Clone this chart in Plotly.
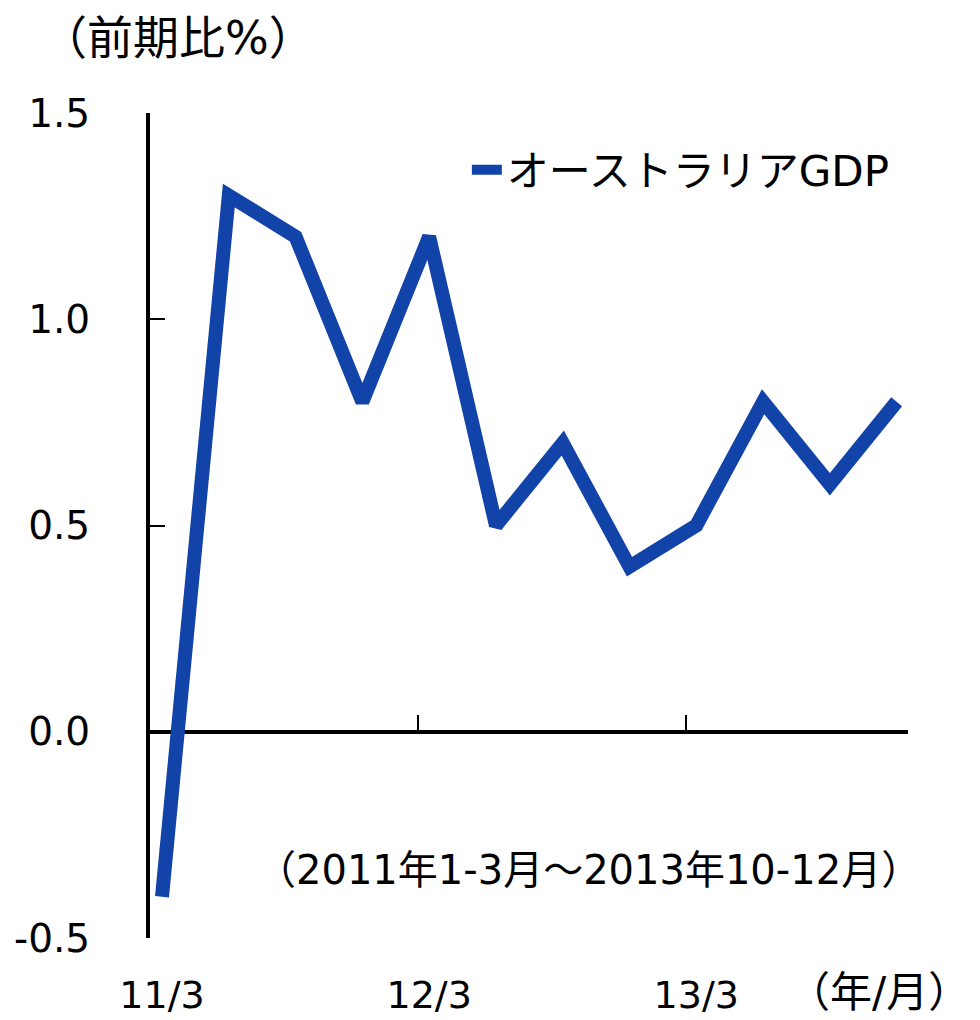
import plotly.graph_objects as go

quarters = ["2011Q1", "2011Q2", "2011Q3", "2011Q4",
            "2012Q1", "2012Q2", "2012Q3", "2012Q4",
            "2013Q1", "2013Q2", "2013Q3", "2013Q4"]
gdp_qoq = [-0.4, 1.3, 1.2, 0.8, 1.2, 0.5, 0.7, 0.4, 0.5, 0.8, 0.6, 0.8]
series_name = "オーストラリアGDP"
tick_labels = ["11/3", "12/3", "13/3"]
tick_label_idx = [0, 4, 8]
y_ticks = [-0.5, 0.0, 0.5, 1.0, 1.5]
y_tick_text = [f"{v:.1f}" for v in y_ticks]

x_idx = list(range(len(quarters)))

FONT = "DejaVu Sans, Noto Sans CJK JP, sans-serif"
FS = 39
BLUE = "#1243A9"

fig = go.Figure()
fig.add_trace(go.Scatter(
    x=x_idx, y=gdp_qoq, mode="lines", name=series_name,
    line=dict(color=BLUE, width=14), text=quarters,
    xaxis="x", yaxis="y",
))
# invisible helper so the zero-line axis renders
fig.add_trace(go.Scatter(
    x=x_idx, y=gdp_qoq, mode="lines", showlegend=False,
    line=dict(color="rgba(0,0,0,0)", width=0), hoverinfo="skip",
    xaxis="x2", yaxis="y",
))

xr = [-0.18, 11.17]
fig.update_layout(
    width=980, height=1020,
    margin=dict(l=150, r=72, t=113, b=82, autoexpand=False),
    paper_bgcolor="white", plot_bgcolor="white",
    font=dict(family=FONT, size=FS, color="black"),
    showlegend=True,
    legend=dict(x=0.418, y=0.931, xanchor="left", yanchor="middle",
                bgcolor="rgba(0,0,0,0)", font=dict(size=42),
                itemwidth=30),
    xaxis=dict(range=xr, tickmode="array", tickvals=tick_label_idx,
               ticktext=tick_labels, showline=False, ticks="",
               showgrid=False, zeroline=False, ticklabelstandoff=31,
               tickfont=dict(size=38), automargin=False),
    xaxis2=dict(range=xr, overlaying="x", anchor="free", position=0.25,
                side="bottom", showline=True, linecolor="black", linewidth=4,
                ticks="inside", ticklen=15, tickwidth=2, tickcolor="black",
                tickmode="array", tickvals=[3.84, 7.84], showticklabels=False,
                showgrid=False, zeroline=False, layer="below traces",
                automargin=False),
    yaxis=dict(range=[-0.5, 1.5], tickmode="array", tickvals=y_ticks,
               ticktext=y_tick_text, showline=True, linecolor="black",
               linewidth=4, ticks="inside", ticklen=15, tickwidth=2,
               tickcolor="black", showgrid=False, zeroline=False,
               ticklabelstandoff=48, automargin=False),
    annotations=[
        dict(text="（前期比%）", xref="paper", yref="paper", x=0.037, y=1.091,
             xanchor="center", yanchor="middle", showarrow=False,
             font=dict(size=46)),
        dict(text="（2011年1-3月～2013年10-12月）", xref="paper", yref="paper",
             x=1.02, y=0.0824, xanchor="right", yanchor="middle",
             showarrow=False, font=dict(size=40)),
        dict(text="（年/月）", xref="paper", yref="paper", x=1.085, y=-0.066,
             xanchor="right", yanchor="middle", showarrow=False,
             font=dict(size=42)),
    ],
)

fig.write_html("out.html",
               config={"displayModeBar": False},
               post_script="document.body.style.margin='0';"
                           "document.body.style.overflow='hidden';")
